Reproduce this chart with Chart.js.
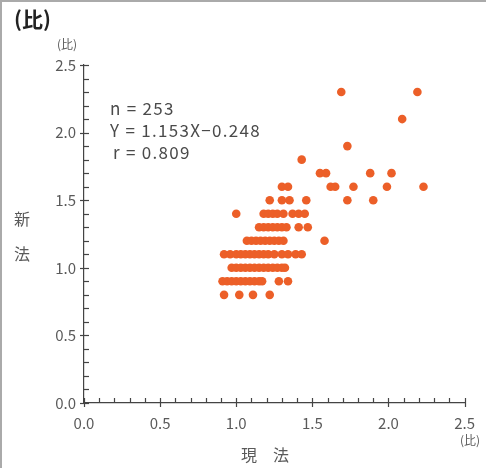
<!DOCTYPE html>
<html>
<head>
<meta charset="utf-8">
<script src="https://cdn.jsdelivr.net/npm/chart.js@4"></script>
<style>
  html, body { margin: 0; padding: 0; background: #fff; }
  #wrap { width: 486px; height: 468px; position: relative; }
</style>
</head>
<body>
<div id="wrap"><canvas id="scatterChart" width="486" height="468"></canvas></div>
<script>
// 現法 (x) と 新法 (y) の比、各行ごとに読み取り
var rowY = [0.8, 0.9, 1.0, 1.1, 1.2, 1.3, 1.4, 1.5, 1.6, 1.7, 1.8, 1.9, 2.1, 2.3];
var rowX = [
    [0.92, 1.02, 1.11, 1.22],
    [0.91, 0.94, 0.97, 1.00, 1.03, 1.06, 1.09, 1.12, 1.15, 1.17, 1.28, 1.34],
    [0.97, 1.00, 1.03, 1.06, 1.09, 1.12, 1.15, 1.18, 1.21, 1.24, 1.27, 1.30, 1.32],
    [0.92, 0.96, 1.00, 1.03, 1.06, 1.09, 1.12, 1.15, 1.18, 1.21, 1.25, 1.30, 1.34, 1.39, 1.43],
    [1.07, 1.10, 1.13, 1.16, 1.19, 1.22, 1.25, 1.28, 1.31, 1.58],
    [1.15, 1.18, 1.21, 1.24, 1.27, 1.30, 1.33, 1.41, 1.47],
    [1.00, 1.18, 1.21, 1.24, 1.27, 1.31, 1.37, 1.41, 1.45],
    [1.22, 1.30, 1.35, 1.46, 1.73, 1.90],
    [1.30, 1.34, 1.62, 1.65, 1.77, 1.99, 2.23],
    [1.55, 1.59, 1.88, 2.02],
    [1.43],
    [1.73],
    [2.09],
    [1.69, 2.19]
];
var axisTicks = [0.0, 0.5, 1.0, 1.5, 2.0, 2.5];
var statLines = ["n = 253", "Y = 1.153X\u22120.248", "r = 0.809"];

var points = [];
for (let i = 0; i < rowY.length; i++) {
    for (let j = 0; j < rowX[i].length; j++) {
        points.push({ x: rowX[i][j], y: rowY[i] });
    }
}

var jpFont = '"Noto Sans CJK JP", "Noto Sans", sans-serif';
var textColor = "#5a5a5a";

function isMajor(v) {
    return axisTicks.some(function (t) { return Math.abs(t - v) < 1e-6; });
}

// 目盛り線・ラベル・枠
var decoPlugin = {
    id: "deco",
    afterDraw: function (chart) {
        var ctx = chart.ctx;
        var xs = chart.scales.x, ys = chart.scales.y;
        var ax = xs.left, ay = ys.bottom;
        ctx.save();
        ctx.strokeStyle = "#444";
        ctx.lineWidth = 1.2;
        ys.ticks.forEach(function (t) {
            var py = Math.round(ys.getPixelForValue(t.value)) + 0.5;
            ctx.beginPath();
            if (isMajor(t.value)) { ctx.moveTo(ax - 4, py); ctx.lineTo(ax + 5, py); }
            else { ctx.moveTo(ax, py); ctx.lineTo(ax + 5, py); }
            ctx.stroke();
        });
        xs.ticks.forEach(function (t) {
            var px = Math.round(xs.getPixelForValue(t.value)) + 0.5;
            ctx.beginPath();
            if (isMajor(t.value)) { ctx.moveTo(px, ay + 4); ctx.lineTo(px, ay - 5); }
            else { ctx.moveTo(px, ay); ctx.lineTo(px, ay - 5); }
            ctx.stroke();
        });

        // 枠
        ctx.strokeStyle = "#aaa";
        ctx.lineWidth = 2;
        ctx.beginPath();
        ctx.moveTo(1, 468); ctx.lineTo(1, 1); ctx.lineTo(486, 1);
        ctx.stroke();

        ctx.fillStyle = "#222";
        ctx.font = "bold 21px " + jpFont;
        ctx.textBaseline = "middle";
        ctx.textAlign = "left";
        ctx.fillText("(比)", 14, 19);

        ctx.fillStyle = textColor;
        ctx.font = "12px " + jpFont;
        ctx.textAlign = "center";
        ctx.fillText("(比)", 67, 44);
        ctx.fillText("(比)", 470, 440);

        ctx.font = "16px " + jpFont;
        ctx.fillText("新", 22, 219);
        ctx.fillText("法", 22, 254);
        ctx.fillText("現\u3000法", 265, 455);

        ctx.textAlign = "left";
        ctx.font = "17px " + jpFont;
        ctx.letterSpacing = "1.3px";
        ctx.fillStyle = "#4a4a4a";
        ctx.fillText(statLines[0], 110, 109);
        ctx.fillText(statLines[1], 110, 131);
        ctx.fillText(statLines[2], 113, 153);
        ctx.restore();
    }
};

var tickLabel = function (v) {
    return isMajor(v) ? v.toFixed(1) : "";
};

new Chart(document.getElementById("scatterChart"), {
    type: "scatter",
    data: {
        datasets: [{
            label: "新法/現法",
            data: points,
            backgroundColor: "rgba(236,95,40,1)",
            borderWidth: 0,
            pointRadius: 4.3,
            pointHoverRadius: 4.3,
        }],
    },
    options: {
        responsive: false,
        animation: false,
        layout: { padding: { left: 0, top: 65, right: 20, bottom: 0 } },
        plugins: { legend: { display: false }, tooltip: { enabled: false } },
        scales: {
            x: {
                type: "linear",
                min: 0, max: 2.5,
                grid: { display: false, drawTicks: false },
                border: { display: true, color: "#444", width: 1.2 },
                ticks: {
                    stepSize: 0.1, autoSkip: false, maxRotation: 0, padding: 11,
                    color: textColor, font: { family: jpFont, size: 15 },
                    callback: tickLabel,
                },
                afterFit: function (s) { s.height = 65; },
            },
            y: {
                type: "linear",
                min: 0, max: 2.5,
                grid: { display: false, drawTicks: false },
                border: { display: true, color: "#444", width: 1.2 },
                ticks: {
                    stepSize: 0.1, autoSkip: false, padding: 8,
                    color: textColor, font: { family: jpFont, size: 15 },
                    callback: tickLabel,
                },
                afterFit: function (s) { s.width = 84; },
            },
        },
    },
    plugins: [decoPlugin],
});
</script>
</body>
</html>
